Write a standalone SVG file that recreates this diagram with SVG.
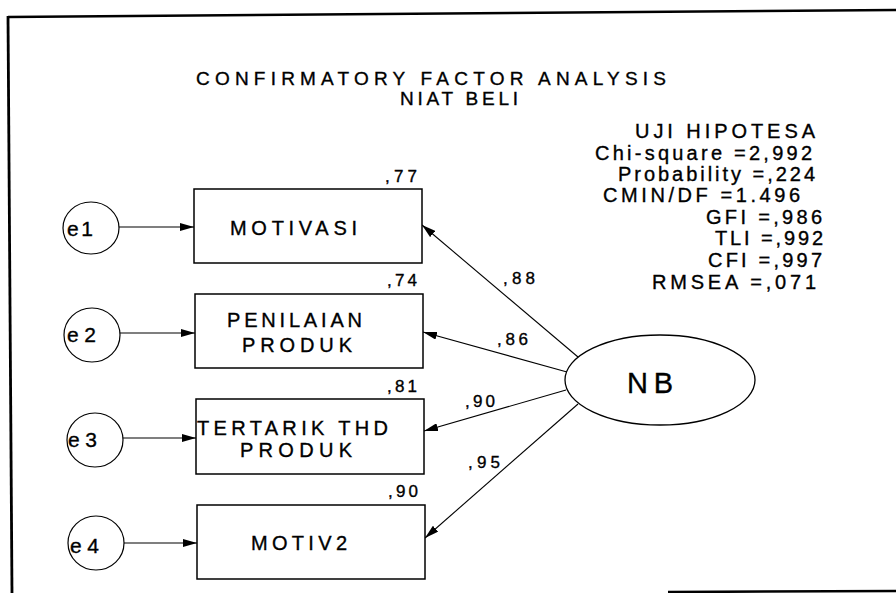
<svg xmlns="http://www.w3.org/2000/svg" width="896" height="593" viewBox="0 0 896 593">
<style>
text{font-family:"Liberation Sans",Arial,sans-serif;fill:#000;stroke:#000;stroke-width:0.35}
.t{font-size:19px}
.box{fill:#fff;stroke:#000;stroke-width:1.5}
.err{fill:#fff;stroke:#000;stroke-width:1.2}
.lbl{font-size:20px}
.el{font-size:21px}
.num{font-size:17px}
.st{font-size:20px}
.c{stroke:#000;stroke-width:1.1;fill:none;marker-end:url(#ah)}
.frame{stroke:#000;fill:none}
</style>
<defs>
<marker id="ah" markerUnits="userSpaceOnUse" viewBox="0 0 14 8" refX="14" refY="4" markerWidth="14" markerHeight="8" orient="auto">
<path d="M0,0 L14,4 L0,8 z" fill="#000"/>
</marker>
</defs>
<rect width="896" height="593" fill="#fff"/>
<g id="frame">
<path class="frame" d="M8,17 L896,10" stroke-width="2.5"/>
<path class="frame" d="M8,16 L12,593" stroke-width="2.8"/>
<path class="frame" d="M668,592 L896,591" stroke-width="2.5"/>
</g>
<g id="title">
<text class="t" x="196" y="85" textLength="470" lengthAdjust="spacing">CONFIRMATORY FACTOR ANALYSIS</text>
<text class="t" x="400" y="105" textLength="118" lengthAdjust="spacing">NIAT BELI</text>
</g>
<g id="fit">
<text class="st" x="635" y="138" textLength="180" lengthAdjust="spacing">UJI HIPOTESA</text>
<text class="st" x="595" y="160" textLength="217" lengthAdjust="spacing">Chi-square =2,992</text>
<text class="st" x="618" y="181" textLength="197" lengthAdjust="spacing">Probability =,224</text>
<text class="st" x="603" y="202" textLength="197" lengthAdjust="spacing">CMIN/DF =1.496</text>
<text class="st" x="706" y="224" textLength="116" lengthAdjust="spacing">GFI =,986</text>
<text class="st" x="715" y="245" textLength="108" lengthAdjust="spacing">TLI =,992</text>
<text class="st" x="708" y="267" textLength="114" lengthAdjust="spacing">CFI =,997</text>
<text class="st" x="652" y="289" textLength="164" lengthAdjust="spacing">RMSEA =,071</text>
</g>
<g id="connectors">
<line class="c" x1="119" y1="227" x2="194" y2="227"/>
<line class="c" x1="120" y1="333" x2="195" y2="333"/>
<line class="c" x1="123" y1="438" x2="196" y2="438"/>
<line class="c" x1="124" y1="543" x2="197" y2="543"/>
<line class="c" x1="578" y1="357" x2="422" y2="225"/>
<line class="c" x1="567" y1="372" x2="423" y2="332"/>
<line class="c" x1="566" y1="390" x2="424" y2="431"/>
<line class="c" x1="578" y1="404" x2="425" y2="538"/>
<text class="num" x="503" y="284" textLength="32" lengthAdjust="spacing">,88</text>
<text class="num" x="497" y="345" textLength="31" lengthAdjust="spacing">,86</text>
<text class="num" x="465" y="407" textLength="30" lengthAdjust="spacing">,90</text>
<text class="num" x="468" y="468" textLength="32" lengthAdjust="spacing">,95</text>
</g>
<g id="e1">
<ellipse class="err" cx="91" cy="228" rx="28" ry="26"/>
<text class="el" x="67" y="236" textLength="26" lengthAdjust="spacing">e1</text>
</g>
<g id="e2">
<ellipse class="err" cx="92" cy="335" rx="28" ry="27"/>
<text class="el" x="67" y="342" textLength="29" lengthAdjust="spacing">e2</text>
</g>
<g id="e3">
<ellipse class="err" cx="95" cy="440" rx="28" ry="27"/>
<text class="el" x="68" y="447" textLength="29" lengthAdjust="spacing">e3</text>
</g>
<g id="e4">
<ellipse class="err" cx="96" cy="543" rx="28" ry="27"/>
<text class="el" x="70" y="553" textLength="29" lengthAdjust="spacing">e4</text>
</g>
<g id="MOTIVASI">
<rect class="box" x="194" y="189" width="228" height="74"/>
<text class="lbl" x="230" y="235" textLength="127" lengthAdjust="spacing">MOTIVASI</text>
<text class="num" x="385" y="182" textLength="32" lengthAdjust="spacing">,77</text>
</g>
<g id="PENILAIAN_PRODUK">
<rect class="box" x="195" y="294" width="228" height="74"/>
<text class="lbl" x="227" y="327" textLength="135" lengthAdjust="spacing">PENILAIAN</text>
<text class="lbl" x="242" y="352" textLength="110" lengthAdjust="spacing">PRODUK</text>
<text class="num" x="387" y="286" textLength="30" lengthAdjust="spacing">,74</text>
</g>
<g id="TERTARIK_THD_PRODUK">
<rect class="box" x="196" y="399" width="228" height="75"/>
<text class="lbl" x="197" y="435" textLength="191" lengthAdjust="spacing">TERTARIK THD</text>
<text class="lbl" x="240" y="457" textLength="112" lengthAdjust="spacing">PRODUK</text>
<text class="num" x="387" y="392" textLength="30" lengthAdjust="spacing">,81</text>
</g>
<g id="MOTIV2">
<rect class="box" x="197" y="505" width="228" height="74"/>
<text class="lbl" x="251" y="550" textLength="96" lengthAdjust="spacing">MOTIV2</text>
<text class="num" x="388" y="497" textLength="30" lengthAdjust="spacing">,90</text>
</g>
<g id="NB">
<ellipse cx="660" cy="380" rx="95" ry="45" fill="#fff" stroke="#000" stroke-width="1.3"/>
<text x="627" y="393" font-size="29" textLength="46" lengthAdjust="spacing">NB</text>
</g>
</svg>
